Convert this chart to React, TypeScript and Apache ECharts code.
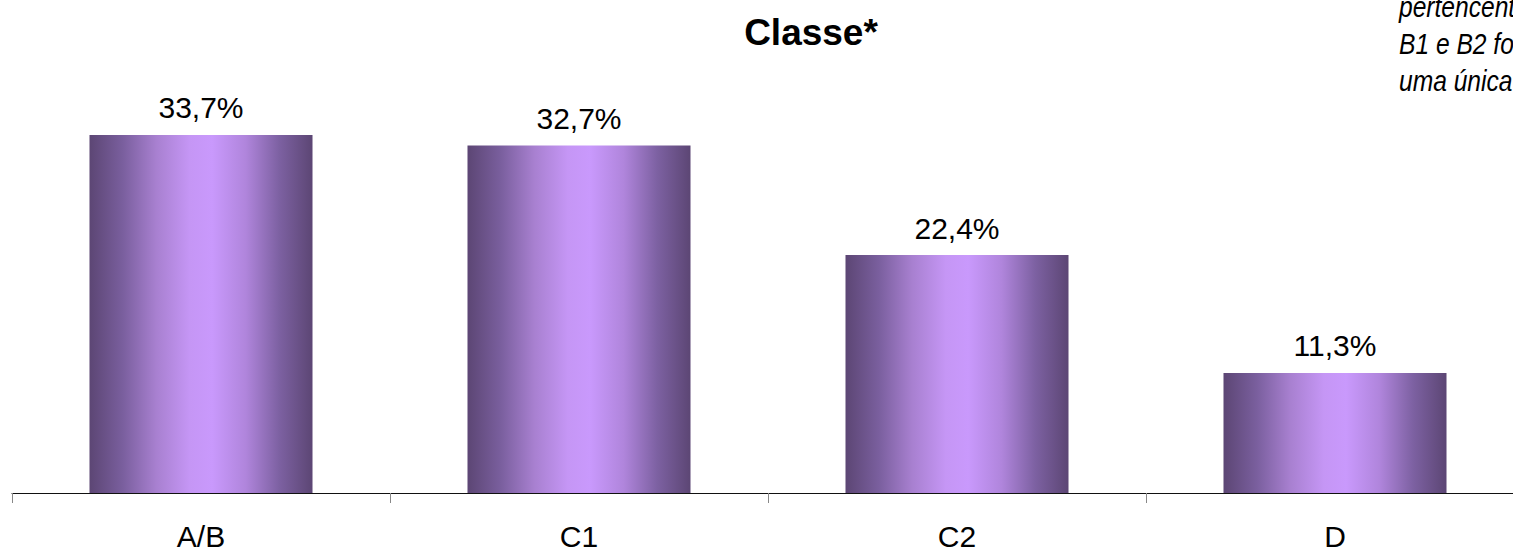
import React, { useEffect, useRef } from "react";
import * as echarts from "echarts";

const categories = ["A/B", "C1", "C2", "D"];
const values = [33.7, 32.7, 22.4, 11.3];
const valueLabels = ["33,7%", "32,7%", "22,4%", "11,3%"];
const titleText = "Classe*";
const noteLines = ["pertencentes às", "B1 e B2 foram", "uma única classe"];

export default function App() {
  const ref = useRef<HTMLDivElement>(null);
  useEffect(() => {
    if (!ref.current) return;
    const chart = echarts.init(ref.current, null, { renderer: "svg" });
    const barGradient = new echarts.graphic.LinearGradient(0, 0, 1, 0, [
      { offset: 0, color: "#5c4674" },
      { offset: 0.15, color: "#7a5f9e" },
      { offset: 0.3, color: "#a880d0" },
      { offset: 0.45, color: "#c596f5" },
      { offset: 0.55, color: "#c999fc" },
      { offset: 0.7, color: "#b085dc" },
      { offset: 0.85, color: "#7d61a2" },
      { offset: 1, color: "#5c4674" },
    ]);
    chart.setOption({
      animation: false,
      backgroundColor: "#ffffff",
      title: {
        text: titleText,
        left: 806,
        textAlign: "center",
        top: 9,
        textStyle: {
          fontFamily: "Liberation Sans, Arial, sans-serif",
          fontWeight: "bold",
          fontSize: 37,
          color: "#000",
        },
      },
      graphic: noteLines.map((t, i) => ({
        type: "text",
        x: 1399,
        y: -8 + i * 37,
        scaleX: 0.82,
        style: {
          text: t,
          font: "italic 30px 'Liberation Sans', Arial, sans-serif",
          fill: "#000",
        },
      })),
      grid: { left: 12, right: 16, top: 68, bottom: 60, containLabel: false },
      xAxis: {
        type: "category",
        data: categories,
        axisLine: { lineStyle: { color: "#111", width: 1 } },
        axisTick: { show: true, length: 10, lineStyle: { color: "#888" } },
        axisLabel: {
          margin: 28,
          fontSize: 30,
          color: "#000",
          fontFamily: "Liberation Sans, Arial, sans-serif",
        },
      },
      yAxis: {
        type: "value",
        min: 0,
        max: 40,
        show: false,
        splitLine: { show: false },
      },
      series: [
        {
          type: "bar",
          data: values,
          barWidth: "59%",
          itemStyle: { color: barGradient },
          label: {
            show: true,
            position: "top",
            distance: 12,
            fontSize: 30,
            color: "#000",
            fontFamily: "Liberation Sans, Arial, sans-serif",
            formatter: (p: any) => valueLabels[p.dataIndex],
          },
        },
      ],
    });
    return () => chart.dispose();
  }, []);
  return (
    <div style={{ position: "fixed", left: 0, top: 0, width: 1513, height: 553, overflow: "hidden", background: "#fff" }}>
      <div ref={ref} style={{ width: 1540, height: 553 }} />
    </div>
  );
}
